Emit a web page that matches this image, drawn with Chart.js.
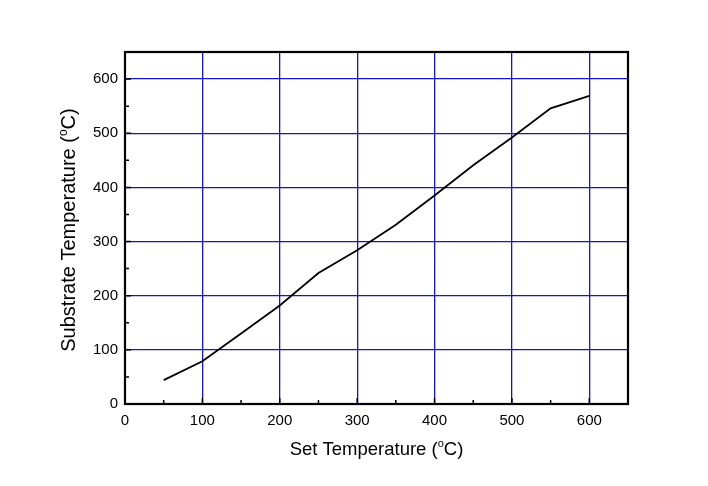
<!DOCTYPE html>
<html>
<head>
<meta charset="utf-8">
<style>
  html, body { margin: 0; padding: 0; background: #fff; }
  #wrap { width: 708px; height: 486px; }
</style>
</head>
<body>
<div id="wrap"><canvas id="tempChart" width="708" height="486"></canvas></div>
<script src="https://cdn.jsdelivr.net/npm/chart.js"></script>
<script>
// values
const setTemp = [50, 100, 150, 200, 250, 300, 350, 400, 450, 500, 550, 600];
const substrateTemp = [44, 79, 130, 182, 242, 284, 331, 385, 441, 492, 546, 569];
const xTicks = [0, 100, 200, 300, 400, 500, 600];
const yTicks = [0, 100, 200, 300, 400, 500, 600];
const xMinor = [50, 150, 250, 350, 450, 550];
const yMinor = [50, 150, 250, 350, 450, 550];
const xTitle = ['Set Temperature (', 'o', 'C)'];
const yTitle = ['Substrate Temperature (', 'o', 'C)'];

const FONT = '"Liberation Sans", Arial, sans-serif';
const GRID_BLUE = 'rgb(20, 20, 200)';

// title with a raised small "o" before the C
function drawTitle(ctx, parts, size) {
  const big = size + 'px ' + FONT;
  const small = Math.round(size * 0.62) + 'px ' + FONT;
  ctx.font = big;
  const w0 = ctx.measureText(parts[0]).width;
  const w2 = ctx.measureText(parts[2]).width;
  ctx.font = small;
  const w1 = ctx.measureText(parts[1]).width;
  let x = -(w0 + w1 + w2) / 2;
  ctx.textAlign = 'left';
  ctx.textBaseline = 'alphabetic';
  ctx.fillStyle = '#000';
  ctx.font = big;
  ctx.fillText(parts[0], x, 0);
  x += w0;
  ctx.font = small;
  ctx.fillText(parts[1], x, -size * 0.42);
  x += w1;
  ctx.font = big;
  ctx.fillText(parts[2], x, 0);
}

const framePlugin = {
  id: 'frame',
  afterDraw(chart) {
    const ctx = chart.ctx;
    const a = chart.chartArea;
    const xs = chart.scales.x, ys = chart.scales.y;
    ctx.save();
    ctx.strokeStyle = '#000';

    // inward ticks on bottom and left
    ctx.lineWidth = 1.5;
    ctx.beginPath();
    xTicks.forEach(v => { const px = xs.getPixelForValue(v); ctx.moveTo(px, a.bottom); ctx.lineTo(px, a.bottom - 6); });
    xMinor.forEach(v => { const px = xs.getPixelForValue(v); ctx.moveTo(px, a.bottom); ctx.lineTo(px, a.bottom - 4); });
    yTicks.forEach(v => { const py = ys.getPixelForValue(v); ctx.moveTo(a.left, py); ctx.lineTo(a.left + 6, py); });
    yMinor.forEach(v => { const py = ys.getPixelForValue(v); ctx.moveTo(a.left, py); ctx.lineTo(a.left + 4, py); });
    ctx.stroke();

    // frame
    ctx.lineWidth = 2.2;
    ctx.strokeRect(a.left, a.top, a.right - a.left, a.bottom - a.top);

    // axis titles
    ctx.save();
    ctx.translate((a.left + a.right) / 2, 455);
    drawTitle(ctx, xTitle, 18.5);
    ctx.restore();

    ctx.save();
    ctx.translate(75, 230);
    ctx.rotate(-Math.PI / 2);
    drawTitle(ctx, yTitle, 20);
    ctx.restore();

    ctx.restore();
  }
};

const ctx = document.getElementById('tempChart').getContext('2d');
new Chart(ctx, {
  type: 'line',
  data: {
    datasets: [{
      data: setTemp.map((x, i) => ({ x: x, y: substrateTemp[i] })),
      borderColor: '#000',
      borderWidth: 1.8,
      pointRadius: 0,
      tension: 0,
      fill: false
    }]
  },
  options: {
    responsive: false,
    animation: false,
    layout: { padding: { left: 0, top: 52, right: 80, bottom: 0 } },
    plugins: { legend: { display: false }, tooltip: { enabled: false } },
    scales: {
      x: {
        type: 'linear',
        min: 0,
        max: 650,
        afterBuildTicks: s => { s.ticks = xTicks.map(v => ({ value: v })); },
        afterFit: s => { s.height = 82; },
        grid: { drawTicks: false, color: GRID_BLUE, lineWidth: 1.3 },
        border: { display: false },
        ticks: { color: '#000', padding: 8, maxRotation: 0, font: { family: FONT, size: 15 } }
      },
      y: {
        type: 'linear',
        min: 0,
        max: 650,
        afterBuildTicks: s => { s.ticks = yTicks.map(v => ({ value: v })); },
        afterFit: s => { s.width = 125; },
        grid: { drawTicks: false, color: GRID_BLUE, lineWidth: 1.3 },
        border: { display: false },
        ticks: { color: '#000', padding: 7, font: { family: FONT, size: 15 } }
      }
    }
  },
  plugins: [framePlugin]
});
</script>
</body>
</html>
